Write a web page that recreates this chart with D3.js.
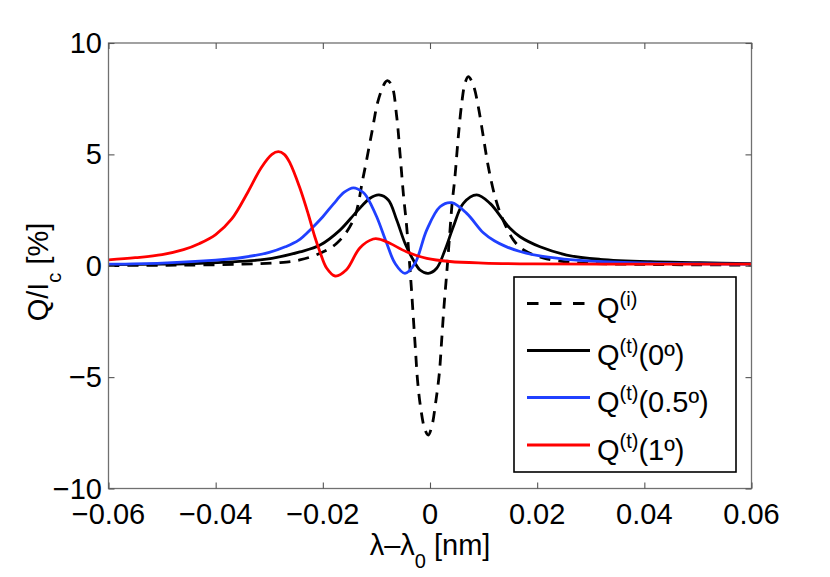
<!DOCTYPE html>
<html><head><meta charset="utf-8">
<script src="https://cdn.jsdelivr.net/npm/d3@7"></script>
<style>
body{margin:0;background:#fff}
text{font-family:"Liberation Sans",Arial,Helvetica,sans-serif;fill:#000}
</style>
</head><body>
<svg id="c" width="830" height="577"></svg>
<script>
// ---- data ----
const xTicks=[-0.06,-0.04,-0.02,0,0.02,0.04,0.06];
const xTickLabels=["\u22120.06","\u22120.04","\u22120.02","0","0.02","0.04","0.06"];
const yTicks=[-10,-5,0,5,10];
const yTickLabels=["\u221210","\u22125","0","5","10"];

const xQi=[-0.06,-0.05,-0.045,-0.035,-0.028,-0.0243,-0.0205,-0.0174,-0.0143,-0.01245,-0.01088,-0.00965,-0.0084,-0.00797,-0.00715,-0.00621,-0.0056,-0.00498,-0.00435,-0.00386,-0.00345,-0.00308,-0.00271,-0.00233,-0.00177,-0.00093,-0.00032,0.00032,0.00112,0.00174,0.00218,0.00261,0.00312,0.0036,0.0041,0.00466,0.00528,0.00592,0.00653,0.00715,0.00808,0.00901,0.00995,0.01088,0.01213,0.01338,0.01555,0.0174,0.0211,0.0255,0.03,0.04,0.05,0.06];
const yQi=[0.01,0.02,0.03,0.07,0.14,0.26,0.56,1.01,2.05,4.0,5.95,7.44,8.22,8.31,8.11,6.69,5.05,3.25,1.75,0.26,-1.09,-2.44,-3.78,-5.13,-6.33,-7.37,-7.6,-7.23,-6.03,-4.83,-3.34,-1.84,-0.34,1.16,2.73,4.0,5.79,7.29,8.19,8.49,8.11,7.14,5.79,4.45,3.1,2.2,1.16,0.72,0.35,0.17,0.1,0.06,0.04,0.03];

const xQt0=[-0.06,-0.05,-0.0429,-0.0317,-0.0295,-0.0243,-0.0205,-0.0168,-0.01368,-0.0112,-0.00952,-0.00778,-0.00621,-0.00467,-0.00312,-0.00187,-0.00032,0.00125,0.0028,0.00435,0.00622,0.00872,0.0112,0.01368,0.01493,0.0168,0.02053,0.0255,0.0317,0.0411,0.0504,0.06];
const yQt0=[0.05,0.07,0.11,0.26,0.33,0.62,0.93,1.6,2.43,3.03,3.18,2.95,2.05,1.01,0.26,-0.19,-0.34,-0.11,0.71,1.75,2.8,3.18,2.8,2.05,1.68,1.3,0.85,0.48,0.29,0.18,0.14,0.09];

const xQt05=[-0.06,-0.05,-0.04,-0.035,-0.03,-0.027,-0.0245,-0.022,-0.02,-0.018,-0.016,-0.0143,-0.0125,-0.01181,-0.00995,-0.00808,-0.00653,-0.00467,-0.0028,-0.00062,0.00187,0.00405,0.00685,0.00995,0.012,0.014,0.0168,0.0205,0.025,0.03,0.041,0.06];
const yQt05=[0.07,0.12,0.25,0.37,0.6,0.85,1.15,1.7,2.2,2.78,3.3,3.5,3.3,3.1,2.2,1.01,0.11,-0.34,0.11,1.6,2.65,2.83,2.35,1.48,1.12,0.88,0.64,0.44,0.3,0.21,0.12,0.07];

const xQt1=[-0.06,-0.055,-0.05,-0.046,-0.043,-0.04,-0.037,-0.034,-0.0315,-0.0295,-0.0283,-0.0272,-0.0261,-0.0243,-0.0227,-0.0215,-0.0205,-0.0193,-0.0177,-0.0156,-0.0131,-0.0106,-0.0095,-0.0075,-0.0044,-0.0006,0.0037,0.0099,0.0193,0.04,0.06];
const yQt1=[0.26,0.36,0.5,0.72,1.0,1.4,2.1,3.3,4.4,5.0,5.12,5.0,4.6,3.5,2.3,1.3,0.6,-0.1,-0.46,-0.18,0.8,1.2,1.2,1.01,0.63,0.33,0.19,0.12,0.08,0.07,0.07];

const legendMain=["Q","Q","Q","Q"];
const legendSup=["(i)","(t)","(t)","(t)"];
const legendTail=["","(0\u00BA)","(0.5\u00BA)","(1\u00BA)"];

// ---- layout ----
const L=108.5,R=751.5,T=43,B=488.5;
const svg=d3.select("#c");
const x=d3.scaleLinear().domain([-0.06,0.06]).range([L,R]);
const y=d3.scaleLinear().domain([-10,10]).range([B,T]);

const series=[
  {xs:xQi,ys:yQi,color:"#000",dash:"11,8"},
  {xs:xQt0,ys:yQt0,color:"#000",dash:null},
  {xs:xQt05,ys:yQt05,color:"#2040ff",dash:null},
  {xs:xQt1,ys:yQt1,color:"#ff0000",dash:null}
];

svg.append("defs").append("clipPath").attr("id","clip")
  .append("rect").attr("x",L).attr("y",T).attr("width",R-L).attr("height",B-T);

const line=d3.line().x(d=>x(d[0])).y(d=>y(d[1])).curve(d3.curveCatmullRom.alpha(0.5));
const g=svg.append("g").attr("clip-path","url(#clip)");
series.forEach(s=>{
  const pts=s.xs.map((v,i)=>[v,s.ys[i]]);
  const p=g.append("path").datum(pts).attr("d",line)
    .attr("fill","none").attr("stroke",s.color).attr("stroke-width",2.8)
    .attr("stroke-linejoin","round");
  if(s.dash) p.attr("stroke-dasharray",s.dash);
});

// axes box
const axisColor="#707070";
svg.append("rect").attr("x",L).attr("y",T).attr("width",R-L).attr("height",B-T)
  .attr("fill","none").attr("stroke",axisColor).attr("stroke-width",1.3);

// ticks via d3 axes (inward)
svg.append("g").attr("transform",`translate(0,${B})`).call(d3.axisBottom(x).tickValues(xTicks).tickSize(-6).tickFormat(""));
svg.append("g").attr("transform",`translate(0,${T})`).call(d3.axisTop(x).tickValues(xTicks).tickSize(-6).tickFormat(""));
svg.append("g").attr("transform",`translate(${L},0)`).call(d3.axisLeft(y).tickValues(yTicks).tickSize(-6).tickFormat(""));
svg.append("g").attr("transform",`translate(${R},0)`).call(d3.axisRight(y).tickValues(yTicks).tickSize(-6).tickFormat(""));
svg.selectAll(".domain").remove();
svg.selectAll(".tick line").attr("stroke","#555").attr("stroke-width",1.1);

// tick labels
svg.append("g").selectAll("text").data(xTicks).join("text")
  .attr("x",d=>x(d)).attr("y",524).attr("text-anchor","middle")
  .attr("font-size",29).text((d,i)=>xTickLabels[i]);
svg.append("g").selectAll("text").data(yTicks).join("text")
  .attr("x",102).attr("y",d=>y(d)+10).attr("text-anchor","end")
  .attr("font-size",29).text((d,i)=>yTickLabels[i]);

// x label
const xl=svg.append("text").attr("x",430).attr("y",555).attr("text-anchor","middle").attr("font-size",29);
xl.append("tspan").text("\u03BB\u2013\u03BB");
xl.append("tspan").attr("font-size",20).attr("dy",13).text("0");
xl.append("tspan").attr("dy",-13).text(" [nm]");

// y label
const yl=svg.append("text").attr("transform","translate(48,272) rotate(-90)").attr("text-anchor","middle").attr("font-size",29);
yl.append("tspan").text("Q/I");
yl.append("tspan").attr("font-size",20).attr("dy",13).text("c");
yl.append("tspan").attr("dy",-13).text(" [%]");

// legend
const lg=svg.append("g");
lg.append("rect").attr("x",514).attr("y",277).attr("width",222).attr("height",195)
  .attr("fill","#fff").attr("stroke","#000").attr("stroke-width",1.6);
const rowY=[303.5,350.5,397.5,445];
series.forEach((s,i)=>{
  const ln=lg.append("line").attr("x1",527).attr("x2",590).attr("y1",rowY[i]).attr("y2",rowY[i])
    .attr("stroke",s.color).attr("stroke-width",2.8);
  if(s.dash) ln.attr("stroke-dasharray","11.5,11.5");
  const t=lg.append("text").attr("x",597).attr("y",rowY[i]+14.5).attr("font-size",29);
  t.append("tspan").text(legendMain[i]);
  t.append("tspan").attr("font-size",20).attr("dy",-12).text(legendSup[i]);
  if(legendTail[i]) t.append("tspan").attr("dy",12).text(legendTail[i]);
});
</script>
</body></html>
